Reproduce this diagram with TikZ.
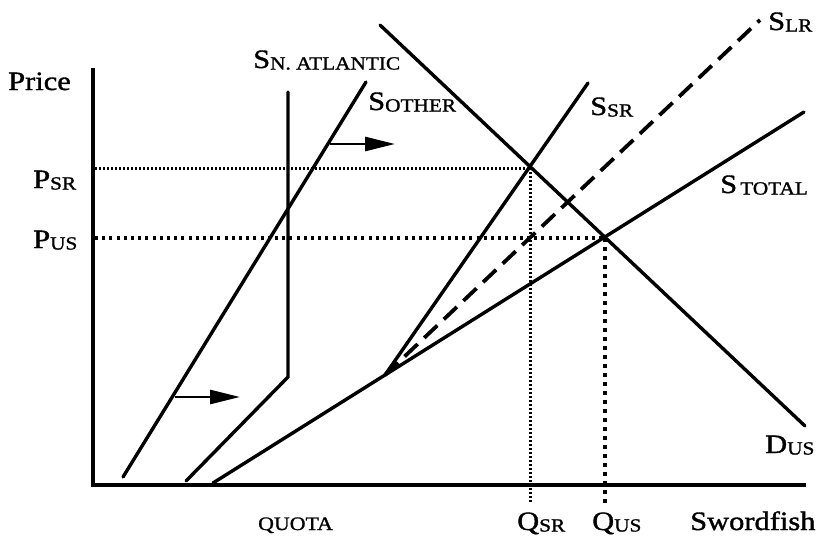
\documentclass[tikz,border=0pt]{standalone}
\usepackage{fontspec}
\setmainfont{Liberation Serif}[FakeStretch=1.15,FakeBold=1.3]
\usetikzlibrary{arrows.meta}
\newcommand{\sublbl}[2]{#1\raisebox{-1.5pt}{\fontsize{18.5}{19}\selectfont #2}}
\tikzset{
  curve/.style={line width=3.4pt, line cap=round},
  axisline/.style={line width=3.6pt},
  dashcurve/.style={line width=3.8pt, dash pattern=on 18pt off 9pt},
  finedot/.style={line width=3pt, dash pattern=on 2.2pt off 1.8pt},
  coarsedot/.style={line width=3.4pt, dash pattern=on 3pt off 4.2pt},
  coarsedotv/.style={line width=3.4pt, dash pattern=on 4pt off 5pt},
  shiftarrow/.style={line width=2.6pt, -{Triangle[length=30pt,width=14pt]}},
  lbl/.style={anchor=base west, inner sep=0pt, font=\fontsize{26.5}{28}\selectfont},
  smalllbl/.style={anchor=base west, inner sep=0pt, font=\fontsize{19}{21}\selectfont}
}
\begin{document}
\begin{tikzpicture}[x=1pt,y=-1pt]
\useasboundingbox (0,0) rectangle (823,541);
% key points
\coordinate (ytop) at (93,68);
\coordinate (orig) at (93,485);
\coordinate (xend) at (806,485);
\coordinate (kink) at (385,375);
\coordinate (psrL) at (95,168);
\coordinate (psrE) at (530,168);
\coordinate (qsrB) at (530,502);
\coordinate (pusL) at (95,238);
\coordinate (pusE) at (605,238);
\coordinate (qusB) at (605,503);
% dotted guides
\draw[finedot] (psrL) -- (psrE);
\draw[finedot] (psrE) -- (qsrB);
\draw[coarsedot] (pusL) -- (pusE);
\draw[coarsedotv] (pusE) -- (qusB);
% axes
\draw[axisline] (ytop) -- (orig) -- (xend);
% supply curves
\coordinate (othA) at (123,477);
\coordinate (othB) at (366,82);
\draw[curve] (othA) -- (othB);
\coordinate (naA) at (186,481);
\coordinate (naK) at (288,377);
\coordinate (naT) at (288,92);
\draw[curve, line join=miter] (naA) -- (naK) -- (naT);
\coordinate (totA) at (213,483);
\coordinate (totB) at (804,112);
\draw[curve] (totA) -- (kink) -- (totB);
\coordinate (srT) at (588,83);
\draw[curve] (kink) -- (srT);
\coordinate (lrT) at (760,20);
\draw[dashcurve] (kink) -- (lrT);
% demand
\coordinate (dA) at (380,25);
\coordinate (dB) at (805,426);
\draw[curve] (dA) -- (dB);
% shift arrows
\coordinate (a1s) at (330,144);
\coordinate (a1e) at (395,144);
\draw[shiftarrow] (a1s) -- (a1e);
\coordinate (a2s) at (175,397);
\coordinate (a2e) at (240,397);
\draw[shiftarrow] (a2s) -- (a2e);
% labels
\node[lbl] (price) at (8,90) {Price};
\node[lbl] (psr) at (33,188) {\sublbl{P}{SR}};
\node[lbl] (pus) at (33,248) {\sublbl{P}{US}};
\node[lbl] (sna) at (253,68) {\sublbl{S}{N. ATLANTIC}};
\node[lbl] (soth) at (368,110) {\sublbl{S}{OTHER}};
\node[lbl] (ssr) at (590,115) {\sublbl{S}{SR}};
\node[lbl] (slr) at (768,30) {\sublbl{S}{LR}};
\node[lbl] (stot) at (720,193) {\sublbl{S}{\,TOTAL}};
\node[lbl] (dus) at (765,453) {\sublbl{D}{US}};
\node[lbl] (qsr) at (517,530) {\sublbl{Q}{SR}};
\node[lbl] (qus) at (592,530) {\sublbl{Q}{US}};
\node[lbl] (sword) at (690,530) {Swordfish};
\node[smalllbl] (quota) at (258,530) {QUOTA};
\end{tikzpicture}
\end{document}
